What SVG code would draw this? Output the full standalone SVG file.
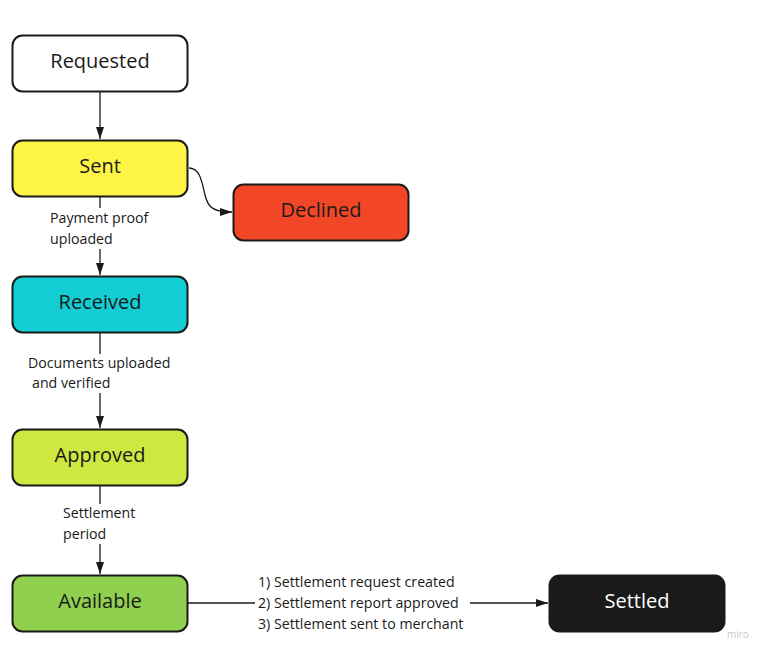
<svg xmlns="http://www.w3.org/2000/svg" width="768" height="656" viewBox="0 0 768 656">
<defs>
<marker id="arr" viewBox="0 0 12 10" refX="12" refY="5" markerWidth="12" markerHeight="10" markerUnits="userSpaceOnUse" orient="auto">
<path d="M0,1 L12,5 L0,9 Z" fill="#1a1a1a"/>
</marker>
<style>
.box{stroke:#1a1a1a;stroke-width:2}
.t{font-family:"Open Sans","Noto Sans",sans-serif;font-size:20px;text-anchor:middle;fill:#1a1a1a}
.l{font-family:"Open Sans","Noto Sans",sans-serif;font-size:14.2px;fill:#1a1a1a}
.c{stroke:#1a1a1a;stroke-width:1.3;fill:none}
</style>
</defs>
<rect width="768" height="656" fill="#ffffff"/>
<g id="requested"><rect class="box" x="12.5" y="35.5" width="175" height="56" rx="10" fill="#ffffff"/><text class="t" x="100" y="68">Requested</text></g>
<g id="sent"><rect class="box" x="12.5" y="140.5" width="175" height="56" rx="10" fill="#fef445"/><text class="t" x="100" y="173">Sent</text></g>
<g id="declined"><rect class="box" x="233.5" y="184.5" width="175" height="56" rx="10" fill="#f24726"/><text class="t" x="321" y="217">Declined</text></g>
<g id="received"><rect class="box" x="12.5" y="276.5" width="175" height="56" rx="10" fill="#12cdd4"/><text class="t" x="100" y="309">Received</text></g>
<g id="approved"><rect class="box" x="12.5" y="429.5" width="175" height="56" rx="10" fill="#cee741"/><text class="t" x="100" y="462">Approved</text></g>
<g id="available"><rect class="box" x="12.5" y="575.5" width="175" height="56" rx="10" fill="#8fd14f"/><text class="t" x="100" y="608">Available</text></g>
<g id="settled"><rect class="box" x="549.5" y="575.5" width="175" height="56" rx="10" fill="#1a1a1a"/><text class="t" x="637" y="608" style="fill:#ffffff">Settled</text></g>
<g id="connectors">
<path class="c" d="M100,92 L100,139" marker-end="url(#arr)"/>
<path class="c" d="M189,168 C200,168 202,182 205,195 C208,208 214,212 232,212" marker-end="url(#arr)"/>
<path class="c" d="M100,197 L100,208"/>
<path class="c" d="M100,249 L100,275" marker-end="url(#arr)"/>
<text class="l" x="50" y="223">Payment proof</text>
<text class="l" x="50" y="244">uploaded</text>
<path class="c" d="M100,333 L100,354"/>
<path class="c" d="M100,393 L100,428" marker-end="url(#arr)"/>
<text class="l" x="28" y="368">Documents uploaded</text>
<text class="l" x="32" y="388">and verified</text>
<path class="c" d="M100,486 L100,504"/>
<path class="c" d="M100,544 L100,574" marker-end="url(#arr)"/>
<text class="l" x="63" y="518">Settlement</text>
<text class="l" x="63" y="539">period</text>
<path class="c" d="M188,603 L255,603"/>
<path class="c" d="M470,603 L548,603" marker-end="url(#arr)"/>
<text class="l" x="258" y="587">1) Settlement request created</text>
<text class="l" x="258" y="608">2) Settlement report approved</text>
<text class="l" x="258" y="629">3) Settlement sent to merchant</text>
</g>
<text x="727" y="638" style="font-family:'Open Sans',sans-serif;font-size:10px;fill:#c8c8c8">miro</text>
</svg>
